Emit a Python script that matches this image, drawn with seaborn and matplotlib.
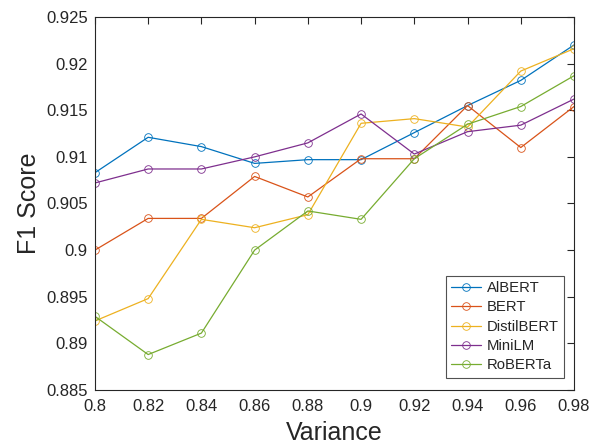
import matplotlib
matplotlib.use("Agg")
import matplotlib.pyplot as plt
import seaborn as sns
import pandas as pd

variance = [0.80, 0.82, 0.84, 0.86, 0.88, 0.90, 0.92, 0.94, 0.96, 0.98]
albert = [0.9083, 0.9121, 0.9111, 0.9093, 0.9097, 0.9097, 0.9126, 0.9155, 0.9182, 0.9220]
bert = [0.9000, 0.9034, 0.9034, 0.9079, 0.9057, 0.9098, 0.9098, 0.9155, 0.9110, 0.9154]
distilbert = [0.8924, 0.8948, 0.9033, 0.9024, 0.9038, 0.9136, 0.9141, 0.9132, 0.9192, 0.9216]
minilm = [0.9072, 0.9087, 0.9087, 0.9100, 0.9115, 0.9146, 0.9103, 0.9127, 0.9134, 0.9162]
roberta = [0.8929, 0.8888, 0.8911, 0.9000, 0.9042, 0.9033, 0.9098, 0.9135, 0.9154, 0.9187]

names = ["AlBERT", "BERT", "DistilBERT", "MiniLM", "RoBERTa"]
series = [albert, bert, distilbert, minilm, roberta]
colors = ["#0072BD", "#D95319", "#EDB120", "#7E2F8E", "#77AC30"]

x_ticks = [0.8, 0.82, 0.84, 0.86, 0.88, 0.9, 0.92, 0.94, 0.96, 0.98]
x_ticklabels = ["0.8", "0.82", "0.84", "0.86", "0.88", "0.9", "0.92", "0.94", "0.96", "0.98"]
y_ticks = [0.885, 0.89, 0.895, 0.9, 0.905, 0.91, 0.915, 0.92, 0.925]
y_ticklabels = ["0.885", "0.89", "0.895", "0.9", "0.905", "0.91", "0.915", "0.92", "0.925"]

sns.set_style("white")
plt.rcParams["font.family"] = ["Liberation Sans", "DejaVu Sans"]

fig = plt.figure(figsize=(5.97, 4.46), dpi=100)
ax = fig.add_axes([0.159, 0.1256, 0.8025, 0.8363])

for name, vals, c in zip(names, series, colors):
    df = pd.DataFrame({"Variance": variance, "F1": vals})
    sns.lineplot(data=df, x="Variance", y="F1", ax=ax, color=c, label=name,
                 marker="o", markersize=5.5, markerfacecolor="none",
                 markeredgecolor=c, markeredgewidth=0.6, linewidth=0.9)

ax.set_xlim(0.8, 0.98)
ax.set_ylim(0.885, 0.925)
ax.set_xticks(x_ticks)
ax.set_xticklabels(x_ticklabels)
ax.set_yticks(y_ticks)
ax.set_yticklabels(y_ticklabels)
ax.tick_params(direction="in", length=5, width=0.8, colors="#262626",
               labelsize=12, top=True, right=True)
ax.tick_params(axis="x", pad=6.5)
ax.tick_params(axis="y", pad=5)
for s in ax.spines.values():
    s.set_color("#262626")
    s.set_linewidth(0.8)
ax.set_xlabel("Variance", fontsize=18, color="#262626", labelpad=5)
ax.set_ylabel("F1 Score", fontsize=18, color="#262626", labelpad=4)

leg = ax.legend(loc="lower right", bbox_to_anchor=(0.985, 0.025), fontsize=10.7,
                frameon=True, fancybox=False, edgecolor="#262626",
                handlelength=2.0, handletextpad=0.4, borderpad=0.35,
                labelspacing=0.36, borderaxespad=0.2)
leg.get_frame().set_linewidth(0.8)

fig.savefig("out.png", dpi=100)
